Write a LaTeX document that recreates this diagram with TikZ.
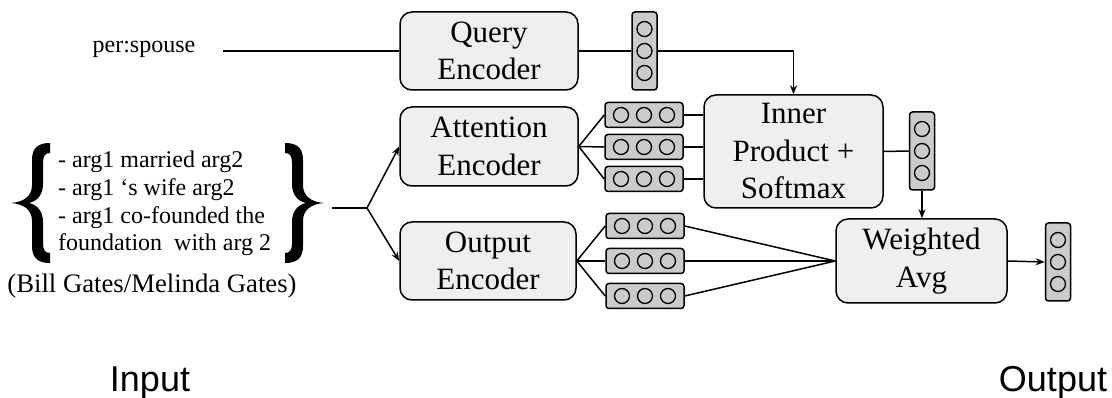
\documentclass[tikz,border=0pt]{standalone}
\usepackage{fontspec}
\setmainfont{Liberation Serif}
\newfontfamily\arialfont{Liberation Sans}
\usetikzlibrary{arrows.meta}
\definecolor{boxfill}{HTML}{EFEFEF}
\definecolor{vecfill}{HTML}{CBCBCB}
\tikzset{
  enc/.style={draw=black, line width=1.5pt, fill=boxfill, rounded corners=12pt,
    align=center, inner sep=0pt, font=\fontsize{31}{37.5}\selectfont},
  hvec/.style={draw=black, line width=1.5pt, fill=vecfill, rounded corners=3pt,
    minimum width=78pt, minimum height=25pt, inner sep=0pt},
  vvec/.style={draw=black, line width=1.5pt, fill=vecfill, rounded corners=3pt,
    minimum width=25pt, minimum height=78pt, inner sep=0pt},
  circ/.style={draw=black, line width=1.3pt, fill=vecfill},
  conn/.style={draw=black, line width=1.5pt},
  arr/.style={conn, -{Stealth[length=9pt,width=7pt]}},
  bracefill/.style={fill=black, draw=none},
}
\newcommand\mybracepath{(50,143) .. controls (38,143) and (32,148) .. (32,160) -- (32,185)
  .. controls (32,196) and (24,202) .. (11,203)
  .. controls (24,204) and (32,210) .. (32,221) -- (32,246)
  .. controls (32,258) and (38,263) .. (50,263) -- (50,253)
  .. controls (45,253) and (43,250) .. (43,243) -- (43,222)
  .. controls (43,212) and (38,205) .. (29,203)
  .. controls (38,201) and (43,194) .. (43,184) -- (43,163)
  .. controls (43,156) and (45,153) .. (50,153) -- cycle}
\begin{document}
\begin{tikzpicture}[x=1pt,y=-1pt]
\useasboundingbox (0,0) rectangle (1112,398);
% encoders
\node[enc, minimum width=178pt, minimum height=78pt] (qenc) at (489,51) {Query\\Encoder};
\node[enc, minimum width=178pt, minimum height=79pt] (aenc) at (489,146.5) {Attention\\Encoder};
\node[enc, minimum width=176pt, minimum height=78pt] (oenc) at (488,261) {Output\\Encoder};
\node[enc, minimum width=179pt, minimum height=113pt] (ip) at (793.5,151.5) {Inner\\Product +\\Softmax};
\node[enc, minimum width=171pt, minimum height=84pt] (wavg) at (921.5,261) {Weighted\\Avg};
% vectors
\node[vvec] (qvec) at (644.5,51) {};
\node[hvec] (av1) at (644,115) {};
\node[hvec] (av2) at (644,147) {};
\node[hvec] (av3) at (644,179) {};
\node[hvec] (ov1) at (645,226) {};
\node[hvec] (ov2) at (645,261) {};
\node[hvec] (ov3) at (645,296) {};
\node[vvec] (ipv) at (922,151) {};
\node[vvec] (outv) at (1058,262) {};
\foreach \n in {av1,av2,av3,ov1,ov2,ov3}
  \foreach \d in {-23,0,23}
    \draw[circ] ([xshift=\d pt]\n.center) circle (7.5pt);
\foreach \n in {qvec,ipv,outv}
  \foreach \d in {-22,0,22}
    \draw[circ] ([yshift=\d pt]\n.center) circle (7.5pt);
% texts
\node[inner sep=0pt, font=\fontsize{24}{27}\selectfont, anchor=base] (rel) at (144,53) {per:spouse};
\coordinate (relend) at (223,51);
\node[inner sep=0pt, font=\fontsize{24}{27.6}\selectfont, align=left, anchor=north west] (ex) at (58,151)
  {- arg1 married arg2\\- arg1 ‘s wife arg2\\- arg1 co-founded the\\foundation\ \ with arg 2};
% braces
\path[bracefill] \mybracepath;
\begin{scope}[shift={(335,0)}, xscale=-1]
  \path[bracefill] \mybracepath;
\end{scope}
\node[inner sep=0pt, font=\fontsize{26.7}{30}\selectfont] (ents) at (152,286) {(Bill Gates/Melinda Gates)};
\node[inner sep=0pt, font=\arialfont\fontsize{36}{40}\selectfont, anchor=base] (inp) at (150,391) {Input};
\node[inner sep=0pt, font=\arialfont\fontsize{36}{40}\selectfont, anchor=base] (outp) at (1053,391) {Output};
% connectors
\coordinate (bstart) at (332,208);
\coordinate (split) at (367,208);
\draw[conn] (relend) -- (qenc.west);
\draw[conn] (qenc.east) -- (qvec.west);
\draw[arr] (qvec.east) -| (ip.north);
\draw[conn] (bstart) -- (split);
\draw[arr] (split) -- (aenc.west);
\draw[arr] (split) -- (oenc.west);
\foreach \n in {av1,av2,av3} {
  \draw[conn] (aenc.east) -- (\n.west);
  \draw[conn] (\n.east) -- (\n.east -| ip.west);
}
\foreach \n in {ov1,ov2,ov3} {
  \draw[conn] (oenc.east) -- (\n.west);
  \draw[conn] (\n.east) -- (wavg.west);
}
\draw[conn] (ip.east) -- (ipv.west);
\draw[arr] (ipv.south) -- (ipv.south |- wavg.north);
\draw[arr] (wavg.east) -- (outv.west);
\end{tikzpicture}
\end{document}
